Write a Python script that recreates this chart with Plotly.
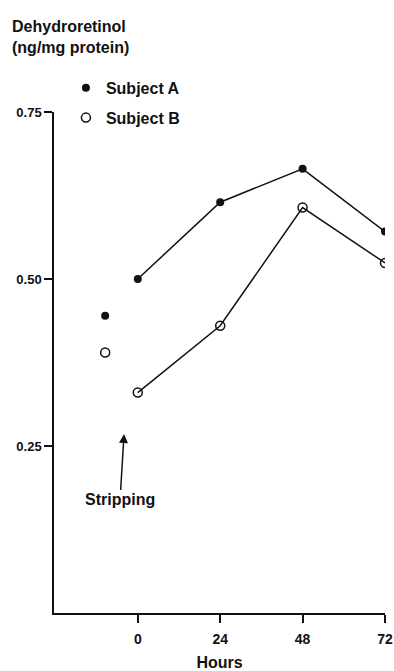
import plotly.graph_objects as go

# Data
pre_hours = [-9.5]
pre_a = [0.445]
pre_b = [0.39]
hours = [0, 24, 48, 72]
subject_a = [0.50, 0.615, 0.665, 0.571]
subject_b = [0.33, 0.43, 0.607, 0.524]
x_ticks = [0, 24, 48, 72]
y_ticks = [0.25, 0.50, 0.75]
y_tick_labels = ["0.25", "0.50", "0.75"]

FONT = "Liberation Sans"
BLACK = "#111111"

fig = go.Figure()

fig.add_trace(go.Scatter(
    x=pre_hours, y=pre_a, mode="markers", name="Subject A",
    legendgroup="a",
    marker=dict(symbol="circle", size=8, color=BLACK),
))
fig.add_trace(go.Scatter(
    x=hours, y=subject_a, mode="lines+markers", name="Subject A",
    legendgroup="a", showlegend=False,
    line=dict(color=BLACK, width=1.5),
    marker=dict(symbol="circle", size=8, color=BLACK),
))
fig.add_trace(go.Scatter(
    x=pre_hours, y=pre_b, mode="markers", name="Subject B",
    legendgroup="b",
    marker=dict(symbol="circle-open", size=9, color=BLACK, line=dict(width=1.5)),
))
fig.add_trace(go.Scatter(
    x=hours, y=subject_b, mode="lines+markers", name="Subject B",
    legendgroup="b", showlegend=False,
    line=dict(color=BLACK, width=1.5),
    marker=dict(symbol="circle-open", size=9, color=BLACK, line=dict(width=1.5)),
))

fig.add_annotation(
    x=-4, y=0.268, xref="x", yref="y",
    text="Stripping", showarrow=True,
    ax=-4, ay=66, axref="pixel", ayref="pixel",
    arrowhead=2, arrowsize=1.2, arrowwidth=1.5, arrowcolor=BLACK,
    font=dict(family=FONT, size=16, color=BLACK, weight="bold"),
)

fig.add_annotation(
    x=-0.133, y=1.191, xref="paper", yref="paper",
    xanchor="left", yanchor="top", align="left", showarrow=False,
    text="Dehydroretinol<br>(ng/mg protein)",
    font=dict(family=FONT, size=16, color=BLACK, weight="bold"),
)

fig.update_layout(
    width=394, height=671,
    margin=dict(l=54, r=9, t=112, b=58, autoexpand=False),
    paper_bgcolor="white", plot_bgcolor="white",
    showlegend=True,
    legend=dict(
        x=0.036, y=1.082, xanchor="left", yanchor="top",
        traceorder="grouped", tracegroupgap=6, itemwidth=30,
        font=dict(family=FONT, size=16, color=BLACK, weight="bold"),
        bgcolor="rgba(0,0,0,0)",
    ),
    font=dict(family=FONT, size=13, color=BLACK),
    xaxis=dict(
        range=[-24.4, 72], tickvals=x_ticks, ticks="outside", ticklen=8,
        tickwidth=1.5, tickcolor=BLACK, showline=True, linecolor=BLACK,
        linewidth=1.5, showgrid=False, zeroline=False, automargin=False,
        ticklabelstandoff=4,
        tickfont=dict(family=FONT, size=14, color=BLACK, weight="bold"),
        title=dict(text="Hours", standoff=11,
                   font=dict(family=FONT, size=16, color=BLACK, weight="bold")),
    ),
    yaxis=dict(
        range=[0, 0.75], tickvals=y_ticks, ticktext=y_tick_labels,
        ticks="outside", ticklen=8, tickwidth=1.5, tickcolor=BLACK,
        showline=True, linecolor=BLACK, linewidth=1.5, showgrid=False,
        zeroline=False, automargin=False,
        tickfont=dict(family=FONT, size=13, color=BLACK, weight="bold"),
    ),
)

fig.write_html("out.html", config={"displayModeBar": False},
               post_script="document.body.style.margin='0';")
